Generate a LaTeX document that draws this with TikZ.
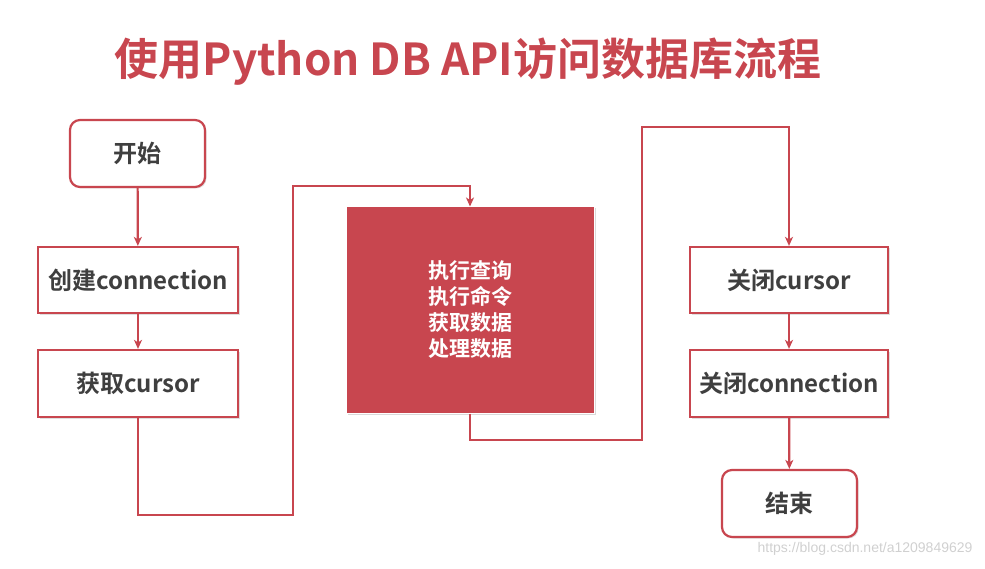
\documentclass[tikz,border=0pt]{standalone}
\usepackage{fontspec}
\setmainfont{Noto Sans CJK SC}[BoldFont={* Bold}]
\newfontfamily\cjkb{Noto Sans CJK SC Bold}
\newfontfamily\wmfont{Liberation Sans}
\usetikzlibrary{arrows.meta,shadows}
\definecolor{dbred}{HTML}{C8464F}
\definecolor{txtgray}{HTML}{3F3F3F}
\definecolor{wmgray}{HTML}{D0D0D0}
\tikzset{
  stepbox/.style={draw=dbred, line width=2.2pt, fill=white, inner sep=0pt,
    font=\cjkb\fontsize{24}{28}\selectfont, text=txtgray,
    drop shadow={shadow xshift=1.5pt, shadow yshift=-1.5pt, opacity=0.25, fill=gray}},
  termbox/.style={stepbox, rounded corners=10pt, minimum width=135pt, minimum height=67pt},
  procbox/.style={stepbox, minimum width=200pt, minimum height=66pt},
  midbox/.style={draw=white, line width=1pt, fill=dbred, inner sep=0pt,
    minimum width=248pt, minimum height=206pt, align=center,
    font=\cjkb\fontsize{21}{26}\selectfont, text=white,
    drop shadow={shadow xshift=1.5pt, shadow yshift=-1.5pt, opacity=0.3, fill=gray}},
  flow/.style={draw=dbred, line width=2.2pt, -{Stealth[length=9pt,width=8pt,inset=2.5pt]}},
  titletext/.style={font=\cjkb\fontsize{44}{50}\selectfont, text=dbred},
}
\begin{document}
\begin{tikzpicture}[x=1pt,y=-1pt]
\useasboundingbox (0,0) rectangle (985,569);
\node[titletext] (title) at (468,62) {使用Python DB API访问数据库流程};

\node[termbox] (start) at (137.5,153.5) {开始};
\node[procbox] (conn) at (138,280) {创建connection};
\node[procbox, minimum height=67pt] (cur) at (138,383.5) {获取cursor};
\node[midbox] (mid) at (470,310) {执行查询\\执行命令\\获取数据\\处理数据};
\node[procbox, minimum width=198pt] (ccur) at (789,280) {关闭cursor};
\node[procbox, minimum width=198pt, minimum height=67pt] (cconn) at (789,383.5) {关闭connection};
\node[termbox] (end) at (789.5,503.5) {结束};

\coordinate (p1) at (138,515);
\coordinate (p2) at (293,515);
\coordinate (p3) at (293,186);
\coordinate (p4) at (470,186);
\coordinate (q1) at (470,440);
\coordinate (q2) at (642,440);
\coordinate (q3) at (642,127);
\coordinate (q4) at (789,127);

\draw[flow] (start) -- (conn);
\draw[flow] (conn) -- (cur);
\draw[flow] (cur.south) -- (p1) -- (p2) -- (p3) -- (p4) -- (mid.north);
\draw[flow] (mid.south) -- (q1) -- (q2) -- (q3) -- (q4) -- (ccur.north);
\draw[flow] (ccur) -- (cconn);
\draw[flow] (cconn) -- (end);

\node[font=\wmfont\fontsize{14}{16}\selectfont, text=wmgray, anchor=east] (wm) at (976,549) {https://blog.csdn.net/a1209849629};
\end{tikzpicture}
\end{document}
